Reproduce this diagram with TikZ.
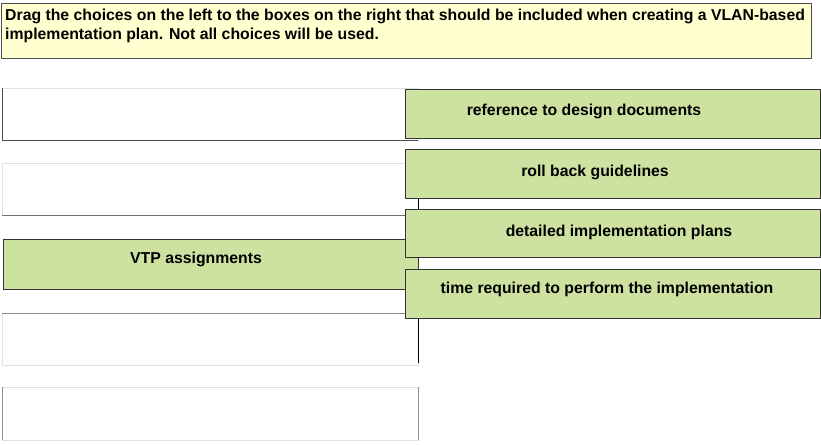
\documentclass[tikz,border=0pt]{standalone}
\usepackage{fontspec}
\setmainfont{Liberation Sans}
\definecolor{choicegreen}{HTML}{CDE1A1}
\definecolor{notebg}{HTML}{FFFFCF}
\tikzset{
  greenbox/.style={draw=black!80, line width=1pt, fill=choicegreen},
  emptybox/.style={draw=black!12, line width=0.6pt},
  boxtext/.style={font=\bfseries\fontsize{15.8}{19}\selectfont}
}
\begin{document}
\begin{tikzpicture}[x=1pt,y=-1pt]
		%%%%% START %%%%%
		\useasboundingbox (0,0) rectangle (821,444);
		
		\draw[draw=black!70, line width=0.8pt, fill=notebg] (1, 3) rectangle (811, 58);
		\node[anchor=north west, align=left, boxtext, inner sep=0pt] (note) at (5, 9)
			{Drag the choices on the left to the boxes on the right that should be included when creating a VLAN-based\\implementation plan. Not all choices will be used.};
		
		% left slots
		\draw[emptybox] (2, 88) rectangle (418, 140);
		\draw[black!70, line width=0.7pt] (2, 88) -- (2, 140) -- (418, 140);
		\draw[emptybox] (2, 163) rectangle (418, 215);
		\draw[black!55, line width=0.6pt] (2, 215) -- (418, 215);
		\draw[emptybox] (2, 313) rectangle (418, 365);
		\draw[black!45, line width=0.6pt] (2, 313) -- (418, 313);
		\draw[emptybox] (2, 387) rectangle (418, 440);
		\draw[black!45, line width=0.6pt] (2, 387) -- (2, 440);
		\draw[black!45, line width=0.6pt] (418, 387) -- (418, 440);
		\draw[black, line width=0.8pt] (418, 198) -- (418, 363);
		
		\draw[greenbox] (3, 239) rectangle (418, 289);
		\node[boxtext] (vtp) at (196, 259) {VTP assignments};
		
		% right targets
		\draw[greenbox] (405, 89) rectangle (820, 138);
		\node[boxtext] (ref) at (584, 111) {reference to design documents};
		\draw[greenbox] (405, 149) rectangle (820, 198);
		\node[boxtext] (roll) at (595, 172) {roll back guidelines};
		\draw[greenbox] (405, 209) rectangle (820, 257);
		\node[boxtext] (plans) at (619, 232) {detailed implementation plans};
		\draw[greenbox] (405, 269) rectangle (820, 318);
		\node[boxtext] (time) at (607, 289) {time required to perform the implementation};
		
		%%%%% END %%%%%
\end{tikzpicture}
\end{document}
